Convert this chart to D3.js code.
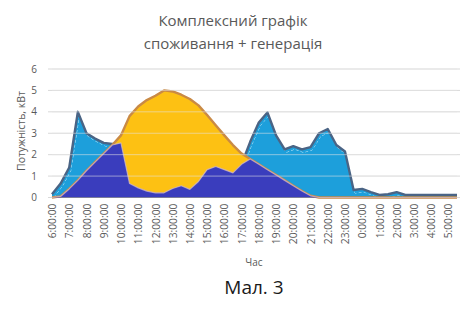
<!DOCTYPE html>
<html>
<head>
<meta charset="utf-8">
<script src="https://cdn.jsdelivr.net/npm/d3@7"></script>
<style>
  body { margin: 0; background: #fff; }
  svg { display: block; font-family: "Open Sans", sans-serif; }
</style>
</head>
<body>
<svg></svg>
<script>
const width = 469,
    height = 310;

// half-hour points, 6:00 .. 5:30
const hourLabels = ["6:00:00", "7:00:00", "8:00:00", "9:00:00", "10:00:00", "11:00:00",
    "12:00:00", "13:00:00", "14:00:00", "15:00:00", "16:00:00", "17:00:00",
    "18:00:00", "19:00:00", "20:00:00", "21:00:00", "22:00:00", "23:00:00",
    "0:00:00", "1:00:00", "2:00:00", "3:00:00", "4:00:00", "5:00:00"];

// споживання
const consumption = [0.15, 0.65, 1.4, 4.0, 3.0, 2.75, 2.55, 2.5, 2.55,
    0.65, 0.45, 0.3, 0.22, 0.22, 0.42, 0.55, 0.38, 0.75, 1.3, 1.45, 1.3, 1.15, 1.55,
    2.6, 3.5, 3.97, 2.9, 2.25, 2.4, 2.25, 2.35, 3.0, 3.2, 2.45, 2.15,
    0.35, 0.4, 0.25, 0.12, 0.15, 0.25, 0.12,
    0.12, 0.12, 0.12, 0.12, 0.12, 0.12];

// генерація
const generation = [0, 0.05, 0.4, 0.8, 1.25, 1.65, 2.05, 2.45, 2.9,
    3.8, 4.25, 4.55, 4.75, 5.0, 4.95, 4.8, 4.6, 4.3,
    3.85, 3.37, 2.9, 2.45, 2.05, 1.8, 1.55, 1.3, 1.05, 0.8, 0.55, 0.3, 0.08,
    0, 0, 0, 0, 0, 0, 0, 0, 0, 0, 0, 0, 0, 0, 0, 0, 0];

// власне споживання з генерації
const selfUse = [0, 0.05, 0.4, 0.8, 1.25, 1.65, 2.05, 2.45, 2.55,
    0.65, 0.45, 0.3, 0.22, 0.22, 0.42, 0.55, 0.38, 0.75, 1.3, 1.45, 1.3, 1.15, 1.55,
    1.8, 1.55, 1.3, 1.05, 0.8, 0.55, 0.3, 0.08,
    0, 0, 0, 0, 0, 0, 0, 0, 0, 0, 0, 0, 0, 0, 0, 0, 0];

const yTicks = [0, 1, 2, 3, 4, 5, 6];

const svg = d3.select("svg").attr("width", width).attr("height", height);

const plot = {left: 52, right: 457, top: 69, bottom: 197.5};

const x = d3.scalePoint()
    .domain(d3.range(consumption.length))
    .range([plot.left, plot.right]);

const y = d3.scaleLinear()
    .domain([0, 6])
    .range([plot.bottom, plot.top]);

// gridlines under the areas
const grid = svg.append("g").classed("grid", true);
grid.selectAll("line")
    .data(yTicks)
    .enter().append("line")
    .attr("x1", plot.left - 4).attr("x2", plot.right + 3)
    .attr("y1", d => y(d)).attr("y2", d => y(d))
    .attr("stroke", "#d9d9d9").attr("stroke-width", 1);

const area = vals => d3.area()
    .x((d, i) => x(i))
    .y0(y(0))
    .y1(d => y(d))(vals);

const line = vals => d3.line()
    .x((d, i) => x(i))
    .y(d => y(d))(vals);

// consumption area (light blue)
svg.append("path")
    .attr("d", area(consumption))
    .attr("fill", "#1d9fdb");

svg.append("clipPath").attr("id", "consClip")
    .append("path").attr("d", area(consumption));

svg.append("path")
    .attr("d", line(consumption))
    .attr("transform", "translate(1.5,3)")
    .attr("clip-path", "url(#consClip)")
    .attr("fill", "none")
    .attr("stroke", "#ffffff")
    .attr("stroke-opacity", 0.85)
    .attr("stroke-width", 0.9)
    .attr("stroke-dasharray", "3,2");

svg.append("path")
    .attr("d", line(consumption))
    .attr("fill", "none")
    .attr("stroke", "#4a6485")
    .attr("stroke-width", 2.4)
    .attr("stroke-linejoin", "round");

// generation area (yellow)
svg.append("path")
    .attr("d", area(generation))
    .attr("fill", "#fdc113");

svg.append("path")
    .attr("d", line(generation))
    .attr("fill", "none")
    .attr("stroke", "#c98a45")
    .attr("stroke-width", 2.4)
    .attr("stroke-linejoin", "round");

// self use area (dark blue)
svg.append("path")
    .attr("d", area(selfUse))
    .attr("fill", "#3a3dbd");

svg.append("path")
    .attr("d", line(selfUse))
    .attr("fill", "none")
    .attr("stroke", "#d2b9c8")
    .attr("stroke-opacity", 0.75)
    .attr("stroke-width", 1.2)
    .attr("stroke-linejoin", "round");

// gridlines showing through the areas
svg.append("g").selectAll("line")
    .data(yTicks.filter(d => d > 0))
    .enter().append("line")
    .attr("x1", plot.left).attr("x2", plot.right)
    .attr("y1", d => y(d)).attr("y2", d => y(d))
    .attr("stroke", "#e6e6e6").attr("stroke-opacity", 0.55).attr("stroke-width", 1);

// y axis labels
svg.append("g").selectAll("text")
    .data(yTicks)
    .enter().append("text")
    .attr("x", 37).attr("y", d => y(d))
    .attr("dy", "0.35em")
    .attr("text-anchor", "end")
    .attr("font-size", 10)
    .attr("fill", "#595959")
    .text(d => d);

// x axis labels
const xAxis = d3.axisBottom(x)
    .tickValues(d3.range(0, consumption.length, 2))
    .tickFormat(i => hourLabels[i / 2])
    .tickSize(0);

const gx = svg.append("g")
    .attr("transform", `translate(0,${plot.bottom})`)
    .call(xAxis);
gx.select(".domain").remove();
gx.selectAll("text")
    .attr("transform", "rotate(-90)")
    .attr("x", -6).attr("y", 0)
    .attr("dy", "0.35em")
    .attr("text-anchor", "end")
    .attr("font-size", 10.3)
    .attr("font-family", "Open Sans, sans-serif")
    .attr("fill", "#595959");

// titles
svg.append("text")
    .attr("x", 233).attr("y", 26)
    .attr("text-anchor", "middle")
    .attr("font-size", 15)
    .attr("fill", "#595959")
    .text("Комплексний графік");
svg.append("text")
    .attr("x", 233).attr("y", 49)
    .attr("text-anchor", "middle")
    .attr("font-size", 15)
    .attr("fill", "#595959")
    .text("споживання + генерація");

svg.append("text")
    .attr("transform", "translate(21,131) rotate(-90)")
    .attr("text-anchor", "middle")
    .attr("dy", "0.35em")
    .attr("font-size", 10.5)
    .attr("fill", "#595959")
    .text("Потужність, кВт");

svg.append("text")
    .attr("x", 254).attr("y", 266)
    .attr("text-anchor", "middle")
    .attr("font-size", 10)
    .attr("fill", "#595959")
    .text("Час");

svg.append("text")
    .attr("x", 254).attr("y", 294)
    .attr("text-anchor", "middle")
    .attr("font-size", 19)
    .attr("fill", "#1a1a1a")
    .text("Мал. 3");
</script>
</body>
</html>
